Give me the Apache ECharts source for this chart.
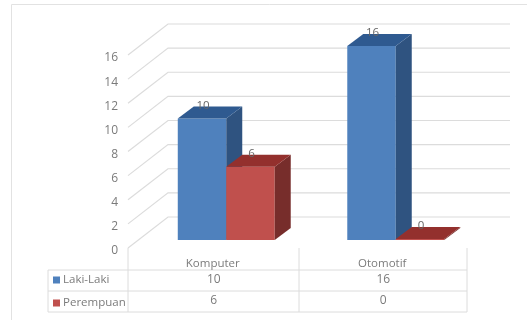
<!DOCTYPE html>
<html>
<head>
<meta charset="utf-8">
<style>html,body{margin:0;padding:0;background:#fff}#c{width:527px;height:320px}</style>
<script src="https://cdn.jsdelivr.net/npm/echarts@6/dist/echarts.min.js"></script>
</head>
<body>
<div id="c"></div>
<script>
var categories = ['Komputer', 'Otomotif'];
var lakiLaki = [10, 16];
var perempuan = [6, 0];
var yTicks = [0, 2, 4, 6, 8, 10, 12, 14, 16];

var FONT = '"Open Sans", sans-serif';
var TEXT = '#7b7b7b', LINE = '#dcdcdc';
var BLUE = {front: '#4f81bd', side: '#2f5380', top: '#2f5a90'};
var RED = {front: '#c0504d', side: '#772d2b', top: '#93302d'};

var chart = echarts.init(document.getElementById('c'), null, {renderer: 'canvas'});

function wallItem(params, api) {
  var p = api.coord([0, api.value(0)]);
  var cs = params.coordSys;
  var y = p[1];
  return {
    type: 'polyline', silent: true,
    shape: {points: [[cs.x, y], [cs.x + 40, y - 31], [cs.x + cs.width + 43, y - 31]]},
    style: {stroke: LINE, lineWidth: 1.2, fill: null}
  };
}

function barItem(pal, seriesPos) {
  return function (params, api) {
    var v = api.value(1);
    var base = api.coord([api.value(0), 0]);
    var top = api.coord([api.value(0), v]);
    var band = api.size([1, 0])[0];
    var w = band * 0.286;
    var x0 = base[0] + 13.5 - w + seriesPos * w, x1 = x0 + w;
    var yb = base[1] - 8, yt = top[1] - 9;
    var dx = 16, dy = 12;
    return {
      type: 'group',
      children: [
        {type: 'rect', shape: {x: x0, y: yt, width: w, height: yb - yt}, style: {fill: pal.front}},
        {type: 'polygon', shape: {points: [[x1, yt], [x1 + dx, yt - dy], [x1 + dx, yb - dy], [x1, yb]]}, style: {fill: pal.side}},
        {type: 'polygon', shape: {points: [[x0, yt], [x0 + dx, yt - dy], [x1 + dx, yt - dy], [x1, yt]]}, style: {fill: pal.top}},
        {type: 'text', z2: 10, style: {text: String(v), x: (x0 + x1) / 2 + 1, y: yt - 13, align: 'center', verticalAlign: 'middle', fill: '#666', font: '11.5px ' + FONT}}
      ]
    };
  };
}

function tableItem(params, api) {
  var base = api.coord([api.value(0), 0]);
  return {
    type: 'text', silent: true,
    style: {text: String(api.value(1)), x: base[0] + 1, y: base[1] + 32 + api.value(2) * 21,
      align: 'center', verticalAlign: 'middle', fill: TEXT, font: '12px ' + FONT}
  };
}

var tableRows = [];
[lakiLaki, perempuan].forEach(function (row, r) {
  row.forEach(function (v, i) { tableRows.push([i, v, r]); });
});

function lineEl(x1, y1, x2, y2, color) {
  return {type: 'line', silent: true, z: 0, shape: {x1: x1, y1: y1, x2: x2, y2: y2},
    style: {stroke: color || LINE, lineWidth: 1}};
}

chart.setOption({
  animation: false,
  backgroundColor: '#fff',
  grid: {left: 128, right: 60, top: 55, bottom: 72, containLabel: false},
  legend: {
    orient: 'vertical', left: 53, top: 272, itemWidth: 7, itemHeight: 7, itemGap: 7, padding: 0,
    selectedMode: false, icon: 'rect',
    textStyle: {color: TEXT, fontFamily: FONT, fontSize: 11.5, lineHeight: 14, padding: [2, 0, 0, -2]},
    data: ['Laki-Laki', 'Perempuan']
  },
  xAxis: {
    type: 'category', data: categories,
    axisLine: {show: false}, axisTick: {show: false}, splitLine: {show: false},
    axisLabel: {color: TEXT, fontFamily: FONT, fontSize: 11.5, margin: 10}
  },
  yAxis: {
    type: 'value', min: 0, max: 16, interval: 2,
    axisLine: {show: false}, axisTick: {show: false}, splitLine: {show: false},
    axisLabel: {color: TEXT, fontFamily: FONT, fontSize: 12, margin: 10, verticalAlign: 'top', lineHeight: 14, padding: [-4, 0, 0, 0]}
  },
  graphic: {elements: [
    lineEl(11.5, 4.5, 527, 4.5, '#e2e2e2'),
    lineEl(11.5, 4.5, 11.5, 320, '#e2e2e2'),
    lineEl(48, 270, 467, 270), lineEl(48, 291, 467, 291), lineEl(48, 312, 467, 312),
    lineEl(48, 270, 48, 312), lineEl(128, 248, 128, 312),
    lineEl(299, 248, 299, 312), lineEl(467, 248, 467, 312)
  ]},
  series: [
    {type: 'custom', name: 'wall', silent: true, z: 1, renderItem: wallItem, data: yTicks.map(function (t) { return [t]; }), encode: {y: 0}},
    {type: 'custom', name: 'Laki-Laki', z: 2, itemStyle: {color: BLUE.front}, renderItem: barItem(BLUE, 0),
      data: lakiLaki.map(function (v, i) { return [i, v]; }), encode: {x: 0, y: 1}},
    {type: 'custom', name: 'Perempuan', z: 3, itemStyle: {color: RED.front}, renderItem: barItem(RED, 1),
      data: perempuan.map(function (v, i) { return [i, v]; }), encode: {x: 0, y: 1}},
    {type: 'custom', name: 'table', silent: true, z: 4, renderItem: tableItem, data: tableRows, encode: {x: 0}}
  ]
});
</script>
</body>
</html>
